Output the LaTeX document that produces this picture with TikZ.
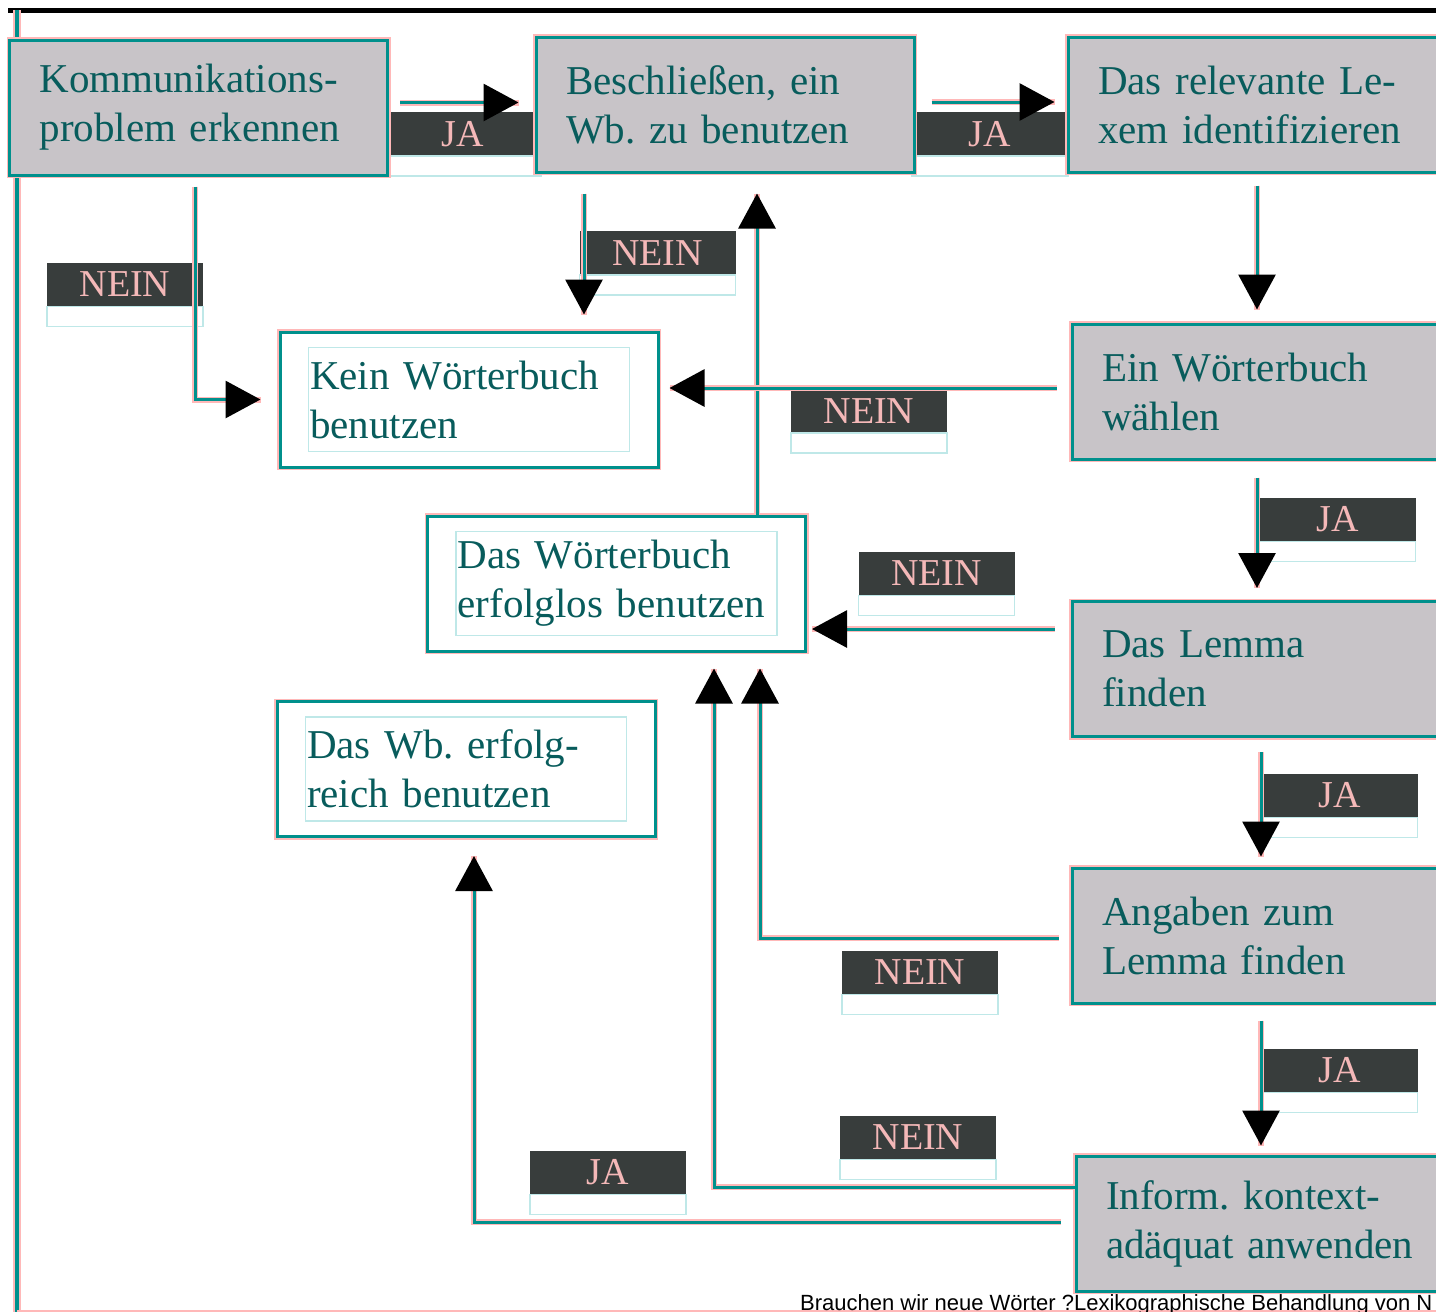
\documentclass[tikz,border=0pt]{standalone}
\usepackage{xcolor}
\usepackage{fontspec}
\setmainfont{Liberation Serif}
\newfontfamily\captionsans{Liberation Sans}
\usepackage{tikz}
\usetikzlibrary{arrows.meta}
\definecolor{linecolor}{HTML}{00908C}
\definecolor{fringecolor}{HTML}{FFB8B8}
\definecolor{boxcolor}{HTML}{C8C4C8}
\definecolor{textcolor}{HTML}{085C5C}
\definecolor{yesnocolor}{HTML}{383D3C}
\definecolor{yesnotext}{HTML}{F4B8B8}
\definecolor{ghostcolor}{HTML}{BFE8E8}
\tikzset{%
box/.style={rectangle, draw=linecolor, line width=3pt, preaction={draw=fringecolor, line width=6pt}, minimum height=135pt, inner xsep=30pt, text width=318pt, align=left, text=textcolor, font=\fontsize{41pt}{49pt}\selectfont},%
graybox/.style={box, fill=boxcolor, minimum width=378pt},%
whitebox/.style={box, fill=white, minimum width=376pt},%
yesno/.style={rectangle, fill=yesnocolor, minimum width=156pt, minimum height=44pt, inner sep=0pt, text=yesnotext, font=\fontsize{38pt}{40pt}\selectfont},%
ghost/.style={draw=ghostcolor, line width=1.5pt},%
flow/.style={draw=linecolor, line width=3pt, preaction={draw=fringecolor, line width=6pt, -}, -{Triangle[length=35pt, width=37pt, color=black]}}%
}

\begin{document}
\begin{tikzpicture}[x=1pt, y=-1pt]%
\useasboundingbox (0, 0) rectangle (1436, 1312);%
\clip (0, 0) rectangle (1436, 1312);%
\draw[black, line width=5pt] (8, 10) -- (1436, 10);%
\draw[linecolor, line width=4pt, preaction={draw=fringecolor, line width=8pt}] (17, 10) -- (17, 1312);%
\draw[fringecolor, line width=2pt] (17, 1311) -- (1436, 1311);%
\node[yesno] (ja1) at (463, 134) {JA};%
\node[yesno] (ja2) at (990, 134) {JA};%
\node[yesno] (nein1) at (125, 284.5) {NEIN};%
\node[yesno] (nein2) at (657.5, 253) {NEIN};%
\node[yesno] (nein3) at (869, 411) {NEIN};%
\node[yesno] (ja3) at (1337.5, 519.5) {JA};%
\node[yesno] (nein4) at (936.5, 573.5) {NEIN};%
\node[yesno] (ja4) at (1339.5, 795.5) {JA};%
\node[yesno] (nein5) at (920, 972.5) {NEIN};%
\node[yesno] (ja5) at (1339.5, 1070.5) {JA};%
\node[yesno] (nein6) at (918, 1137.5) {NEIN};%
\node[yesno] (ja6) at (608, 1172.5) {JA};%
\foreach \n in {ja1, ja2, nein1, nein2, nein3, ja3, nein4, ja4, nein5, ja5, nein6, ja6}%
  \draw[ghost] (\n.south west) rectangle ([yshift=-20pt]\n.south east);%
\node[graybox] (kom) at (198.5, 107.5) {Kommunikations-\\problem erkennen};%
\node[graybox, minimum width=374pt] (besch) at (725, 104.5) {Beschließen, ein\\Wb.\ zu benutzen};%
\node[graybox] (lexem) at (1257, 104.5) {Das relevante Le-\\xem identifizieren};%
\node[graybox] (waehlen) at (1261, 391.5) {Ein Wörterbuch\\wählen};%
\node[graybox] (lemma) at (1261, 669) {Das Lemma\\finden};%
\node[graybox] (angaben) at (1261, 935.5) {Angaben zum\\Lemma finden};%
\node[graybox] (inform) at (1265, 1223.5) {Inform.\ kontext-\\adäquat anwenden};%
\node[whitebox] (kein) at (469, 399.5) {Kein Wörterbuch\\benutzen};%
\node[whitebox] (erfolglos) at (616.5, 583.5) {Das Wörterbuch\\erfolglos benutzen};%
\node[whitebox] (erfolgreich) at (466, 769) {Das Wb.\ erfolg-\\reich benutzen};%
\foreach \n in {kein, erfolglos, erfolgreich}%
  \draw[ghost] ([xshift=30pt, yshift=-17pt]\n.north west) rectangle ([xshift=-30pt, yshift=17pt]\n.south east);%
\draw[flow, shorten <=11pt, shorten >=16pt] ([yshift=5pt]kom.east) -- ([yshift=5pt]kom.east -| besch.west);%
\draw[flow, shorten <=16pt, shorten >=12pt] ([yshift=2.5pt]besch.east) -- ([yshift=2.5pt]besch.east -| lexem.west);%
\draw[flow, shorten <=10pt, shorten >=18pt] ([xshift=-3.5pt]kom.south) |- (kein.west);%
\draw[flow, shorten <=20pt, shorten >=16pt] ([xshift=-141pt]besch.south) -- ([xshift=-141pt]besch.south |- kein.north);%
\draw[flow, shorten >=20pt] ([xshift=32pt]besch.south |- erfolglos.north) -- ([xshift=32pt]besch.south);%
\draw[flow, shorten <=12pt, shorten >=13pt] (lexem.south) -- (lexem.south |- waehlen.north);%
\draw[flow, shorten <=14pt, shorten >=10pt] ([yshift=3.5pt]waehlen.west) -- ([yshift=3.5pt]waehlen.west -| kein.east);%
\draw[flow, shorten <=17pt, shorten >=12pt] ([xshift=-4pt]waehlen.south) -- ([xshift=-4pt]waehlen.south |- lemma.north);%
\draw[flow, shorten <=16pt, shorten >=5pt] ([yshift=40pt]lemma.west) -- ([yshift=40pt]lemma.west -| erfolglos.east);%
\draw[flow, shorten <=14pt, shorten >=10pt] (lemma.south) -- (lemma.south |- angaben.north);%
\draw[flow, shorten <=12pt, shorten >=16pt] ([yshift=-2.5pt]angaben.west) -| ([xshift=143.5pt]erfolglos.south);%
\draw[flow, shorten <=16pt, shorten >=9pt] (angaben.south) -- (angaben.south |- inform.north);%
\draw[flow, shorten >=16pt] ([yshift=36.5pt]inform.west) -| ([xshift=97.5pt]erfolglos.south);%
\draw[flow, shorten <=14pt, shorten >=18pt] ([yshift=1.5pt]inform.west) -| ([xshift=8pt]erfolgreich.south);%
\node[anchor=base west, inner sep=0pt, font=\captionsans\fontsize{22pt}{24pt}\selectfont] (caption) at (800, 1310) {Brauchen wir neue Wörter ?Lexikographische Behandlung von N};%
\end{tikzpicture}
\end{document}
